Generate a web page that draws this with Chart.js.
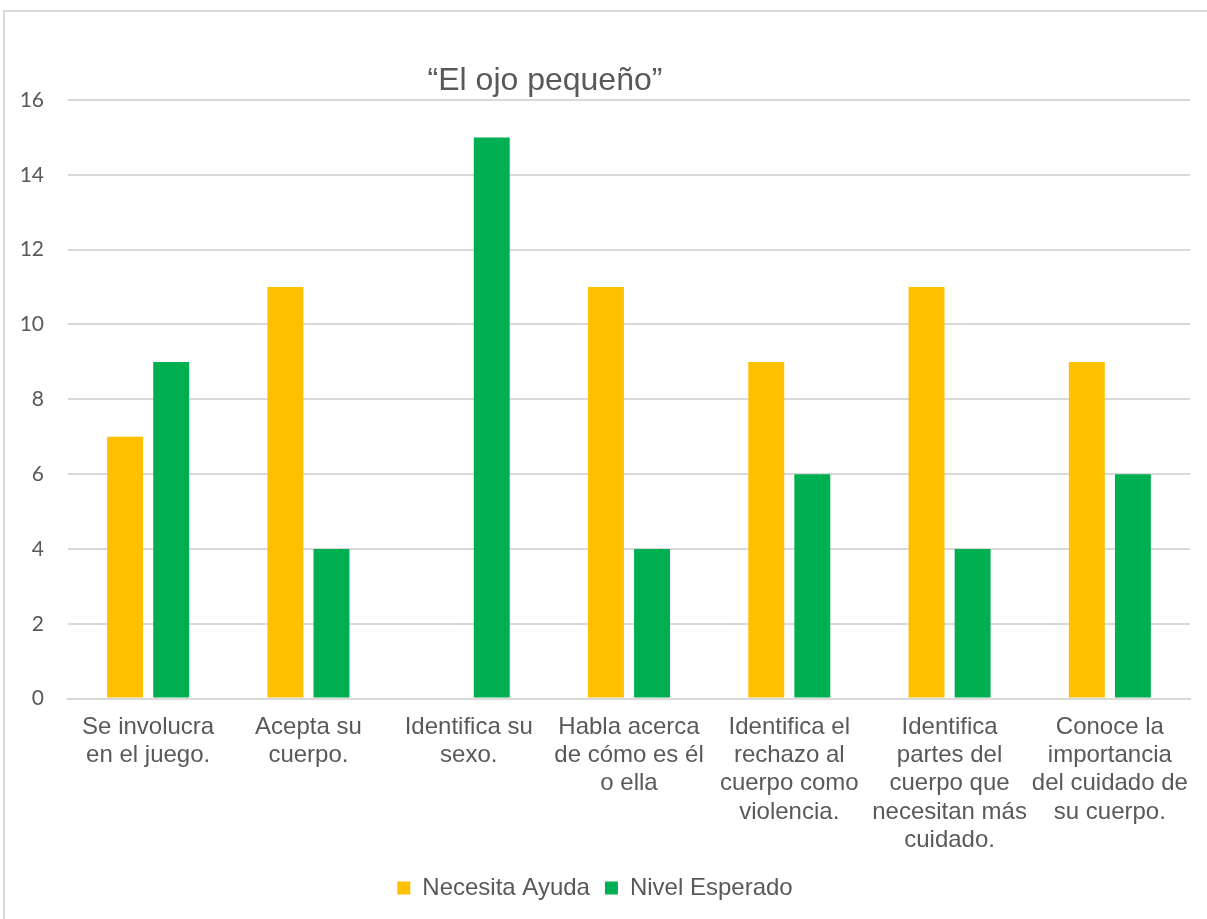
<!DOCTYPE html>
<html>
<head>
<meta charset="utf-8">
<script src="https://cdn.jsdelivr.net/npm/chart.js@4/dist/chart.umd.min.js"></script>
<style>
  html, body { margin: 0; padding: 0; background: #fff; overflow: hidden; }
  #frame { position: absolute; left: 3px; top: 10px; width: 1300px; height: 1000px; border: 2px solid #d9d9d9; }
  #wrap { position: absolute; left: 0; top: 0; width: 1207px; height: 919px; }
</style>
</head>
<body>
<div id="frame"></div>
<div id="wrap"><canvas id="c"></canvas></div>
<script>
const title = '\u201CEl ojo peque\u00F1o\u201D'
const categories = [
  ['Se involucra', 'en el juego.'],
  ['Acepta su', 'cuerpo.'],
  ['Identifica su', 'sexo.'],
  ['Habla acerca', 'de cómo es él', 'o ella'],
  ['Identifica el', 'rechazo al', 'cuerpo como', 'violencia.'],
  ['Identifica', 'partes del', 'cuerpo que', 'necesitan más', 'cuidado.'],
  ['Conoce la', 'importancia', 'del cuidado de', 'su cuerpo.']
]
const necesitaAyuda = [7, 11, 0, 11, 9, 11, 9]
const nivelEsperado = [9, 4, 15, 4, 6, 4, 6]

const textColor = '#595959'
const gridColor = '#d9d9d9'

// title sits inside the frame, a bit left of the plot centre
const titlePlugin = {
  id: 'floatTitle',
  afterDraw(chart) {
    const ctx = chart.ctx
    ctx.save()
    ctx.font = '32px "Liberation Sans", Arial, sans-serif'
    ctx.fillStyle = textColor
    ctx.textAlign = 'center'
    ctx.textBaseline = 'middle'
    ctx.fillText(title, 545, 81)
    ctx.restore()
  }
}

new Chart(document.getElementById('c'), {
  type: 'bar',
  data: {
    labels: categories,
    datasets: [
      { label: 'Necesita Ayuda', data: necesitaAyuda, backgroundColor: '#ffc000', categoryPercentage: 0.575, barPercentage: 0.78 },
      { label: 'Nivel Esperado', data: nivelEsperado, backgroundColor: '#00b050', categoryPercentage: 0.575, barPercentage: 0.78 }
    ]
  },
  options: {
    responsive: true,
    maintainAspectRatio: false,
    animation: false,
    layout: { padding: { top: 100, right: 17, bottom: 9, left: 0 } },
    plugins: {
      title: { display: false },
      tooltip: { enabled: false },
      legend: {
        position: 'bottom',
        labels: {
          color: textColor,
          font: { family: '"Liberation Sans", Arial, sans-serif', size: 24 },
          boxWidth: 13,
          boxHeight: 13,
          padding: 15
        }
      }
    },
    scales: {
      x: {
        grid: { display: false },
        border: { display: true, color: gridColor, width: 2 },
        ticks: {
          color: textColor,
          font: { family: '"Liberation Sans", Arial, sans-serif', size: 24, lineHeight: 1.17 },
          padding: 7,
          maxRotation: 0,
          autoSkip: false
        }
      },
      y: {
        min: 0,
        max: 16,
        afterFit(scale) { scale.width = 68 },
        grid: { color: gridColor, lineWidth: 2, drawTicks: false },
        border: { display: false },
        ticks: {
          stepSize: 2,
          color: textColor,
          font: { family: 'Lato, "Open Sans", sans-serif', size: 21 },
          padding: 24
        }
      }
    }
  },
  plugins: [titlePlugin]
})
</script>
</body>
</html>
